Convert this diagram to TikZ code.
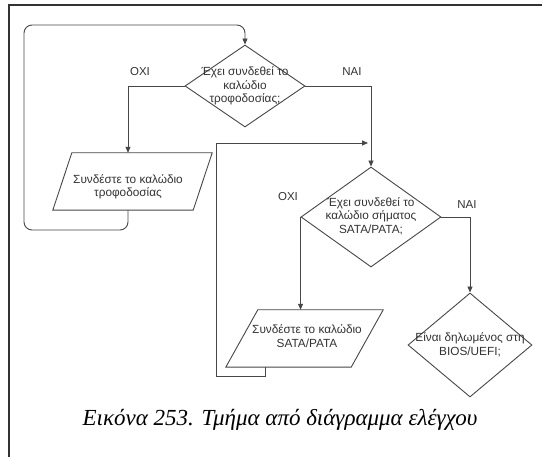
\documentclass[tikz,border=0pt]{standalone}
\usepackage{fontspec}
\setmainfont{Liberation Serif}
\newfontfamily\diagfont{Liberation Sans}
\usetikzlibrary{shapes.geometric,arrows.meta}
\begin{document}
\begin{tikzpicture}[x=1pt,y=-1pt,
  line/.style={draw=black!72,line width=0.9pt},
  arr/.style={line,-{Triangle[length=6pt,width=5pt]}},
  dia/.style={diamond,line,minimum width=#1,inner sep=0pt},
  txt/.style={font=\diagfont\fontsize{11.8}{13.5}\selectfont,text=black!80,align=center,inner sep=0pt},
  lbl/.style={font=\diagfont\fontsize{11.5}{13}\selectfont,text=black!80,inner sep=0pt},
  pbox/.style={inner sep=0pt,minimum width=#1,minimum height=57pt}]
\useasboundingbox (0,0) rectangle (542,457);
\fill[white] (0,0) rectangle (542,457);
% frame
\draw[black!80,line width=1.2pt] (9,457) -- (9,5) -- (542,5);
% diamonds
\node[dia=120pt,minimum height=82pt] (d1) at (245,86) {};
\node[dia=140pt,minimum height=100pt] (d2) at (371,217) {};
\node[dia=124pt,minimum height=104pt] (d3) at (470,345) {};
\node[txt] (t1) at (245,86) {Έχει συνδεθεί το\\καλώδιο\\τροφοδοσίας;};
\node[txt] (t2) at (371,216) {Έχει συνδεθεί το\\καλώδιο σήματος\\SATA/PATA;};
\node[txt] (t3) at (470,345) {Είναι δηλωμένος στη\\BIOS/UEFI;};
% parallelograms
\node[pbox=140pt] (p1) at (132.5,181.5) {};
\draw[line] ([xshift=9.5pt]p1.north west) -- ([xshift=9.5pt]p1.north east) -- ([xshift=-9.5pt]p1.south east) -- ([xshift=-9.5pt]p1.south west) -- cycle;
\node[txt] (pt1) at (128,187) {Συνδέστε το καλώδιο\\τροφοδοσίας};
\node[pbox=125pt] (p2) at (304.5,338.5) {};
\draw[line] ([xshift=16pt]p2.north west) -- ([xshift=16pt]p2.north east) -- ([xshift=-16pt]p2.south east) -- ([xshift=-16pt]p2.south west) -- cycle;
\node[txt] (pt2) at (307,336) {Συνδέστε το καλώδιο\\SATA/PATA};
% labels
\node[lbl] (o1) at (140,72) {ΟΧΙ};
\node[lbl] (n1) at (352,72) {ΝΑΙ};
\node[lbl] (o2) at (288,197) {ΟΧΙ};
\node[lbl] (n2) at (467,205) {ΝΑΙ};
% connectors
\coordinate (c1) at (128,0);
\draw[arr] (d1.west) -| (c1 |- p1.north);
\draw[arr] (d1.east) -| (d2.north);
\draw[arr] (d2.west) -| (d2.west |- p2.north);
\draw[arr] (d2.east) -| (d3.north);
% loop 1
\draw[arr,rounded corners=8pt] (c1 |- p1.south) -- (128,230) -- (24,230) -- (24,25) -- (245,25) -- (d1.north);
% loop 2
\coordinate (c2) at (265,0);
\draw[arr] (c2 |- p2.south) -- (265,376) -- (216,376) -- (216,143) -- (368,143);
% caption
\node[font=\itshape\fontsize{23}{26}\selectfont,inner sep=0pt] (cap) at (280,420) {Εικόνα 253. Τμήμα από διάγραμμα ελέγχου};
\end{tikzpicture}
\end{document}
